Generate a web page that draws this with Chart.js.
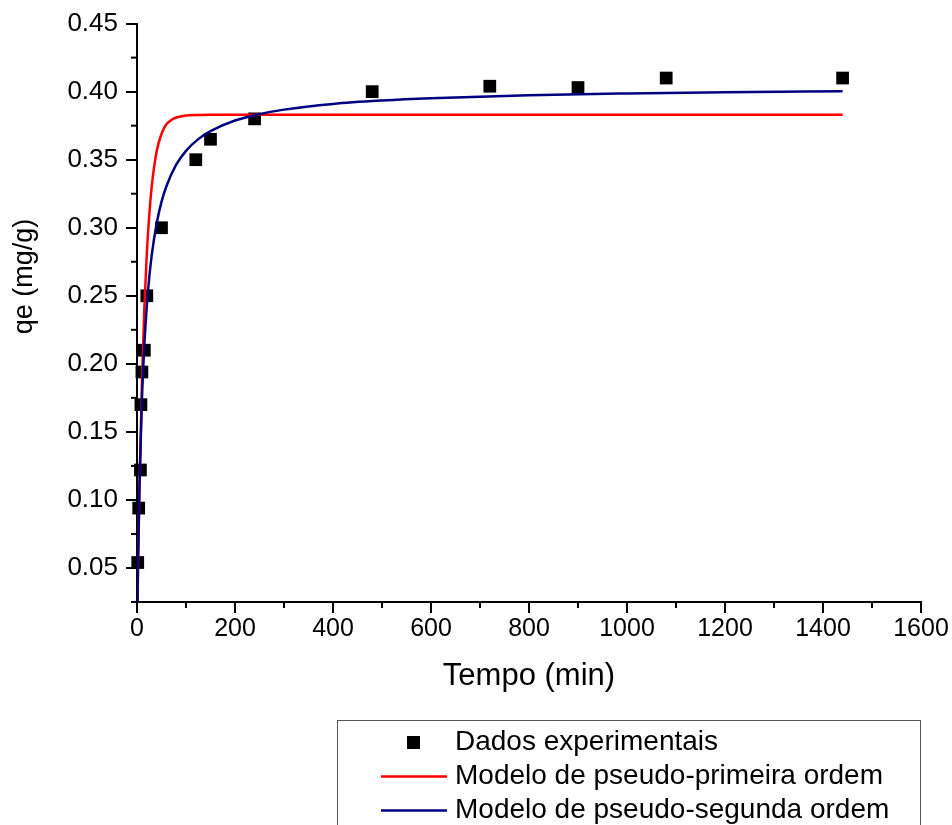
<!DOCTYPE html>
<html>
<head>
<meta charset="utf-8">
<title>Cinética de adsorção</title>
<script src="https://cdn.jsdelivr.net/npm/chart.js@4"></script>
<style>
  html, body { margin: 0; padding: 0; background: #fff; }
  #wrap { width: 952px; height: 825px; }
</style>
</head>
<body>
<div id="wrap"><canvas id="kineticChart" width="952" height="825"></canvas></div>
<script>
const expTime = [1.5, 3.5, 7, 8, 10, 15, 20, 50, 120, 150, 240, 480, 720, 900, 1080, 1440];
const expQe = [0.054, 0.094, 0.122, 0.170, 0.194, 0.210, 0.250, 0.300, 0.350, 0.365, 0.380, 0.400, 0.404, 0.403, 0.410, 0.410];

// curva pseudo-primeira ordem
const pfoTime = [0, 2, 5, 10, 15, 20, 25, 30, 40, 50, 60, 70, 80, 100, 125, 150, 200, 300, 500, 800, 1100, 1440];
const pfoQe = [0, 0.047, 0.108, 0.185, 0.241, 0.281, 0.309, 0.330, 0.356, 0.369, 0.376, 0.3792, 0.381, 0.3825, 0.3829, 0.383, 0.383, 0.383, 0.383, 0.383, 0.383, 0.383];

// curva pseudo-segunda ordem
const psoTime = [0, 2, 5, 10, 15, 20, 25, 30, 40, 50, 60, 80, 100, 125, 150, 200, 250, 300, 400, 500, 600, 800, 1000, 1200, 1440];
const psoQe = [0, 0.0527, 0.1102, 0.1731, 0.2139, 0.2424, 0.2635, 0.2797, 0.303, 0.319, 0.3305, 0.3463, 0.3565, 0.3651, 0.371, 0.3788, 0.3835, 0.3868, 0.391, 0.3935, 0.3952, 0.3974, 0.3987, 0.3996, 0.4003];

// eixos
const xMajor = [0, 200, 400, 600, 800, 1000, 1200, 1400, 1600];
const xMinor = [100, 300, 500, 700, 900, 1100, 1300, 1500];
const yMajor = [0.05, 0.10, 0.15, 0.20, 0.25, 0.30, 0.35, 0.40, 0.45];
const yMinor = [0.025, 0.075, 0.125, 0.175, 0.225, 0.275, 0.325, 0.375, 0.425];

const seriesNames = ["Dados experimentais", "Modelo de pseudo-primeira ordem", "Modelo de pseudo-segunda ordem"];
const xTitle = "Tempo (min)";
const yTitle = "qe (mg/g)";

const FONT = '"Liberation Sans", Arial, sans-serif';

function toPoints(xs, ys) {
  return xs.map((v, i) => ({ x: v, y: ys[i] }));
}

// ticks menores, título do eixo y e legenda com moldura
const decorations = {
  id: "decorations",
  afterDraw(chart) {
    const ctx = chart.ctx;
    const area = chart.chartArea;
    const xs = chart.scales.x;
    const ys = chart.scales.y;

    ctx.save();
    ctx.strokeStyle = "#000";
    ctx.lineWidth = 2;
    yMinor.forEach(function (v) {
      const py = ys.getPixelForValue(v);
      ctx.beginPath();
      ctx.moveTo(area.left - 6, py);
      ctx.lineTo(area.left, py);
      ctx.stroke();
    });
    xMinor.forEach(function (v) {
      const px = xs.getPixelForValue(v);
      ctx.beginPath();
      ctx.moveTo(px, area.bottom);
      ctx.lineTo(px, area.bottom + 6);
      ctx.stroke();
    });
    ctx.restore();

    // título do eixo y
    ctx.save();
    ctx.translate(25, area.top + 253);
    ctx.rotate(-Math.PI / 2);
    ctx.font = "27px " + FONT;
    ctx.fillStyle = "#000";
    ctx.textAlign = "center";
    ctx.textBaseline = "middle";
    ctx.fillText(yTitle, 0, 0);
    ctx.restore();

    // legenda
    ctx.save();
    ctx.strokeStyle = "#555";
    ctx.lineWidth = 1;
    ctx.strokeRect(337.5, 720.5, 583, 130);
    ctx.font = "28px " + FONT;
    ctx.textAlign = "left";
    ctx.textBaseline = "middle";
    chart.data.datasets.forEach(function (ds, i) {
      const rowY = 742.5 + i * 34;
      if (ds.showLine === false) {
        ctx.fillStyle = ds.backgroundColor;
        ctx.fillRect(407, rowY - 6.5, 13, 13);
      } else {
        ctx.strokeStyle = ds.borderColor;
        ctx.lineWidth = 2.5;
        ctx.beginPath();
        ctx.moveTo(381, rowY);
        ctx.lineTo(447, rowY);
        ctx.stroke();
      }
      ctx.fillStyle = "#000";
      ctx.fillText(ds.label, 455, rowY);
    });
    ctx.restore();
  },
};

const ctx = document.getElementById("kineticChart").getContext("2d");
new Chart(ctx, {
  type: "scatter",
  data: {
    datasets: [
      {
        label: seriesNames[0],
        data: toPoints(expTime, expQe),
        showLine: false,
        pointStyle: "rect",
        pointRadius: 9,
        pointBorderWidth: 0,
        backgroundColor: "#000",
        borderColor: "#000",
        clip: false,
        order: 3,
      },
      {
        type: "line",
        label: seriesNames[1],
        data: toPoints(pfoTime, pfoQe),
        borderColor: "#ff0000",
        backgroundColor: "#ff0000",
        borderWidth: 2.5,
        pointRadius: 0,
        cubicInterpolationMode: "monotone",
        fill: false,
        order: 2,
      },
      {
        type: "line",
        label: seriesNames[2],
        data: toPoints(psoTime, psoQe),
        borderColor: "#000080",
        backgroundColor: "#000080",
        borderWidth: 2.5,
        pointRadius: 0,
        cubicInterpolationMode: "monotone",
        fill: false,
        order: 1,
      },
    ],
  },
  options: {
    responsive: false,
    animation: false,
    layout: {
      padding: { left: 0, top: 22, right: 31, bottom: 0 },
    },
    plugins: {
      legend: { display: false },
      tooltip: { enabled: false },
    },
    scales: {
      x: {
        type: "linear",
        min: 0,
        max: 1600,
        afterBuildTicks: function (scale) {
          scale.ticks = xMajor.map((v) => ({ value: v }));
        },
        afterFit: function (scale) {
          scale.height = 223;
        },
        border: { display: true, color: "#000", width: 2 },
        grid: {
          drawOnChartArea: false,
          drawTicks: true,
          tickLength: 11,
          color: "#000",
          lineWidth: 2,
        },
        ticks: {
          color: "#000",
          padding: 1,
          maxRotation: 0,
          font: { family: FONT, size: 25 },
          callback: (v) => String(v),
        },
        title: {
          display: true,
          text: xTitle,
          color: "#000",
          font: { family: FONT, size: 31, lineHeight: 1.2 },
          padding: { top: 0, bottom: 130 },
        },
      },
      y: {
        type: "linear",
        min: 0.025,
        max: 0.45,
        afterBuildTicks: function (scale) {
          scale.ticks = yMajor.map((v) => ({ value: v }));
        },
        afterFit: function (scale) {
          scale.width = 137;
        },
        border: { display: true, color: "#000", width: 2 },
        grid: {
          drawOnChartArea: false,
          drawTicks: true,
          tickLength: 11,
          color: "#000",
          lineWidth: 2,
        },
        ticks: {
          color: "#000",
          padding: 8,
          font: { family: FONT, size: 26 },
          callback: (v) => Number(v).toFixed(2),
        },
      },
    },
  },
  plugins: [decorations],
});
</script>
</body>
</html>
